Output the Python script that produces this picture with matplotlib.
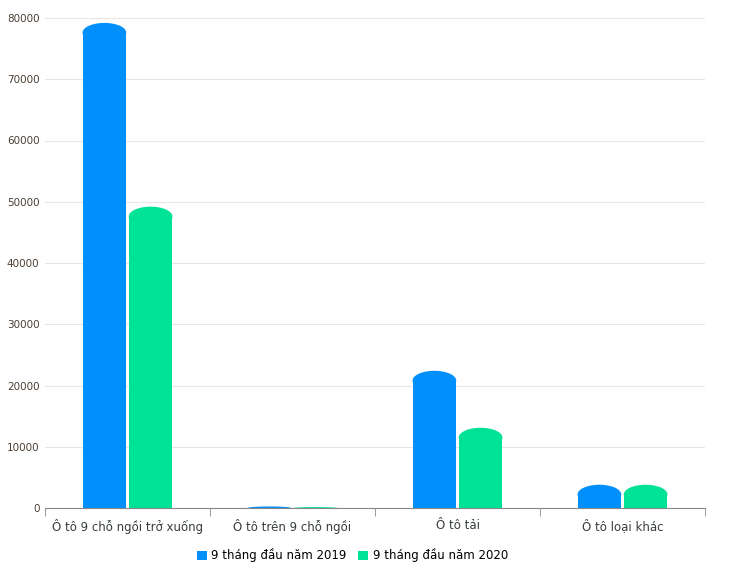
import matplotlib.pyplot as plt
from matplotlib.patches import Ellipse, Rectangle, Patch

categories = ["Ô tô 9 chỗ ngồi trở xuống", "Ô tô trên 9 chỗ ngồi", "Ô tô tải", "Ô tô loại khác"]
series_names = ["9 tháng đầu năm 2019", "9 tháng đầu năm 2020"]
values_2019 = [79200, 250, 22400, 3800]
values_2020 = [49200, 150, 13100, 3800]
colors = ["#008FFB", "#00E396"]

fig = plt.figure(figsize=(7.5, 5.73), dpi=100)
ax = fig.add_axes([45 / 750, 1 - 508 / 573, 660 / 750, 490 / 573])

w = 0.265
dome = 1600
for vals, off, col in [(values_2019, -0.14, colors[0]), (values_2020, 0.14, colors[1])]:
    for i, v in enumerate(vals):
        h = min(dome, v)
        x = i + off
        ax.add_patch(Rectangle((x - w / 2, 0), w, v - h, facecolor=col, edgecolor="none"))
        ax.add_patch(Ellipse((x, v - h), w, 2 * h, facecolor=col, edgecolor="none"))

ax.set_xlim(-0.5, 3.5)
ax.set_ylim(0, 80000)
ax.set_yticks(range(0, 80001, 10000))
ax.tick_params(axis="y", length=0, labelsize=7.5, labelcolor="#4a3f35", pad=4)
ax.set_xticks(range(4))
ax.set_xticklabels(categories, fontsize=8.5, color="#373d3f")
ax.set_xticks([-0.5, 0.5, 1.5, 2.5, 3.5], minor=True)
ax.tick_params(axis="x", which="major", length=0, pad=8)
ax.tick_params(axis="x", which="minor", length=6, color="#888888")
ax.grid(axis="y", color="#e6e6e6", linewidth=0.8)
ax.set_axisbelow(True)
for s in ["left", "right", "top"]:
    ax.spines[s].set_visible(False)
ax.spines["bottom"].set_color("#888888")

handles = [Patch(facecolor=c, label=n) for c, n in zip(colors, series_names)]
fig.legend(handles=handles, loc="lower center", bbox_to_anchor=(0.47, 0.0), ncol=2,
           frameon=False, fontsize=8.5, handlelength=0.8, handleheight=0.8,
           columnspacing=1.0, handletextpad=0.4)

fig.savefig("out.png")
